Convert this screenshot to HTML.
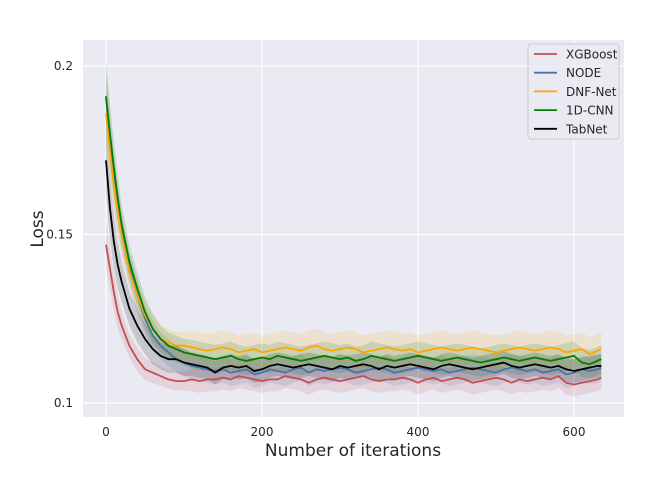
<!DOCTYPE html>
<html><head><meta charset="utf-8"><style>
body{margin:0;background:#fff;font-family:"DejaVu Sans","Liberation Sans",sans-serif}
svg text{font-family:"DejaVu Sans","Liberation Sans",sans-serif}
</style></head><body>
<svg id="chart" width="668" height="480" xmlns="http://www.w3.org/2000/svg">
<rect width="668" height="480" fill="#fff"/>
<rect x="83" y="40" width="541" height="377" fill="#eaeaf2"/>
<g id="grid"></g><g id="bands"></g><g id="lines"></g><g id="axes"></g>
<text x="353" y="456" font-size="17" text-anchor="middle" fill="#262626">Number of iterations</text>
<text transform="translate(43,229) rotate(-90)" font-size="17" text-anchor="middle" fill="#262626">Loss</text>
<g id="legend"></g>
</svg>
<script>
const iters=[0,5,10,15,20];for(let i=30;i<=630;i+=10)iters.push(i);iters.push(635);
const names=["XGBoost","NODE","DNF-Net","1D-CNN","TabNet"];
const colors=["#c44e52","#4c72b0","#ffa500","#008000","#000000"];
const xgbHead=[0.147,0.140,0.133,0.127,0.123,0.117,0.113,0.110,0.109,0.108,0.107,0.1065,0.1065];
const xgbTail=[0.107,0.1065,0.107,0.107,0.1075,0.107,0.108,0.1075,0.107,0.1065,0.107,0.107,0.108,0.1075,0.107,0.106,0.107,0.1075,0.107,0.1065,0.107,0.1075,0.108,0.107,0.1065,0.107,0.107,0.1075,0.107,0.106,0.107,0.1075,0.1065,0.107,0.1075,0.107,0.106,0.1065,0.107,0.1075,0.107,0.106,0.107,0.1065,0.107,0.1075,0.107,0.108,0.106,0.1055,0.106,0.1065,0.107,0.1075];
const nodeHead=[0.191,0.178,0.167,0.158,0.151,0.140,0.132,0.125,0.120,0.117,0.115,0.113,0.112];
const nodeTail=[0.111,0.1105,0.110,0.1095,0.110,0.109,0.1095,0.110,0.1085,0.109,0.110,0.1095,0.109,0.110,0.1105,0.109,0.110,0.1095,0.110,0.1105,0.110,0.109,0.1095,0.110,0.1105,0.110,0.109,0.1095,0.110,0.1105,0.110,0.1095,0.110,0.109,0.1095,0.110,0.1105,0.110,0.1095,0.109,0.110,0.1105,0.110,0.1095,0.110,0.109,0.1095,0.110,0.1085,0.109,0.110,0.1095,0.110,0.1105];
const dnfHead=[0.186,0.175,0.165,0.157,0.150,0.139,0.132,0.126,0.122,0.119,0.118,0.117,0.117];
const dnfTail=[0.1165,0.116,0.1155,0.116,0.1165,0.116,0.115,0.1155,0.116,0.115,0.1155,0.116,0.1165,0.116,0.1155,0.1165,0.117,0.116,0.1155,0.116,0.1165,0.116,0.115,0.1155,0.116,0.1165,0.116,0.1155,0.116,0.115,0.1155,0.116,0.1165,0.116,0.1155,0.116,0.1165,0.116,0.1155,0.115,0.1155,0.116,0.1165,0.116,0.1155,0.116,0.1165,0.116,0.115,0.1155,0.116,0.1145,0.1155,0.116];
const cnnHead=[0.191,0.180,0.170,0.161,0.153,0.142,0.134,0.127,0.122,0.119,0.117,0.116,0.115];
const cnnTail=[0.1145,0.114,0.1135,0.113,0.1135,0.114,0.113,0.1125,0.113,0.1135,0.113,0.114,0.1135,0.113,0.1125,0.113,0.1135,0.114,0.1135,0.113,0.1135,0.1125,0.113,0.114,0.1135,0.113,0.1125,0.113,0.1135,0.114,0.1135,0.113,0.1125,0.113,0.1135,0.113,0.1125,0.112,0.1125,0.113,0.1135,0.113,0.1125,0.113,0.1135,0.113,0.1125,0.113,0.1135,0.114,0.112,0.1115,0.1125,0.113];
const tabHead=[0.172,0.158,0.148,0.141,0.136,0.128,0.123,0.119,0.116,0.114,0.113,0.113,0.112];
const tabTail=[0.1115,0.111,0.1105,0.109,0.1105,0.111,0.1105,0.111,0.1095,0.110,0.111,0.1115,0.111,0.1105,0.111,0.1115,0.111,0.1105,0.110,0.111,0.1105,0.111,0.1115,0.111,0.110,0.111,0.1105,0.111,0.1115,0.111,0.1105,0.110,0.111,0.1115,0.111,0.1105,0.110,0.1105,0.111,0.1115,0.112,0.111,0.1105,0.111,0.1115,0.111,0.1105,0.111,0.110,0.1095,0.110,0.1105,0.111,0.111];
const stdHead=[0.010,0.009,0.008,0.007,0.006,0.005,0.005,0.0045,0.0045,0.004,0.004,0.004,0.004];
const stdTail=[0.0035,0.004,0.005,0.0042,0.0035];
const xTicks=[0,200,400,600];
const yTicks=[0.1,0.15,0.2];
const yTickLabels=["0.1","0.15","0.2"];
const series=[xgbHead.concat(xgbTail),nodeHead.concat(nodeTail),dnfHead.concat(dnfTail),cnnHead.concat(cnnTail),tabHead.concat(tabTail)];
const xs=v=>106+v*0.78, ys=v=>403-(v-0.1)*3370;
const NS="http://www.w3.org/2000/svg";
function mk(t,a,p){const e=document.createElementNS(NS,t);for(const k in a)e.setAttribute(k,a[k]);p.appendChild(e);return e;}
const grid=document.getElementById('grid'),axes=document.getElementById('axes');
xTicks.forEach(t=>{const l=mk('line',{x1:xs(t),x2:xs(t),y1:40,y2:417,stroke:'#fff','stroke-width':1.2},grid);

const tx=mk('text',{x:xs(t),y:436,'font-size':12,'text-anchor':'middle',fill:'#262626'},axes);tx.textContent=t;
});
yTicks.forEach((t,i)=>{const l=mk('line',{x1:83,x2:624,y1:ys(t),y2:ys(t),stroke:'#fff','stroke-width':1.2},grid);

const tx=mk('text',{x:73,y:ys(t)+4,'font-size':12,'text-anchor':'end',fill:'#262626'},axes);tx.textContent=yTickLabels[i];
});
const bands=document.getElementById('bands'),lines=document.getElementById('lines');
series.forEach((s,k)=>{
 const sd=i=>i<stdHead.length?stdHead[i]*(k==0?0.7:1):stdTail[k];
 let up=[],dn=[],ln=[];
 s.forEach((v,i)=>{up.push(xs(iters[i])+','+ys(v+sd(i)));dn.unshift(xs(iters[i])+','+ys(v-sd(i)));ln.push(xs(iters[i])+','+ys(v));});
 const b=mk('polygon',{points:up.concat(dn).join(' '),fill:colors[k],'fill-opacity':0.15},bands);
 
 const p=mk('polyline',{points:ln.join(' '),fill:'none',stroke:colors[k],'stroke-width':1.8},lines);
 
});
const lg=document.getElementById('legend');
const box=mk('rect',{x:528,y:44,width:91,height:95,rx:3,fill:'#eaeaf2','fill-opacity':0.8,stroke:'#cccccc'},lg);

names.forEach((n,i)=>{const y=54+i*18.7;
 const l=mk('line',{x1:534,x2:557,y1:y,y2:y,stroke:colors[i],'stroke-width':1.8},lg);
 
 const t=mk('text',{x:566,y:y+4.5,'font-size':12,fill:'#262626'},lg);t.textContent=n;
 });
</script>
</body></html>
